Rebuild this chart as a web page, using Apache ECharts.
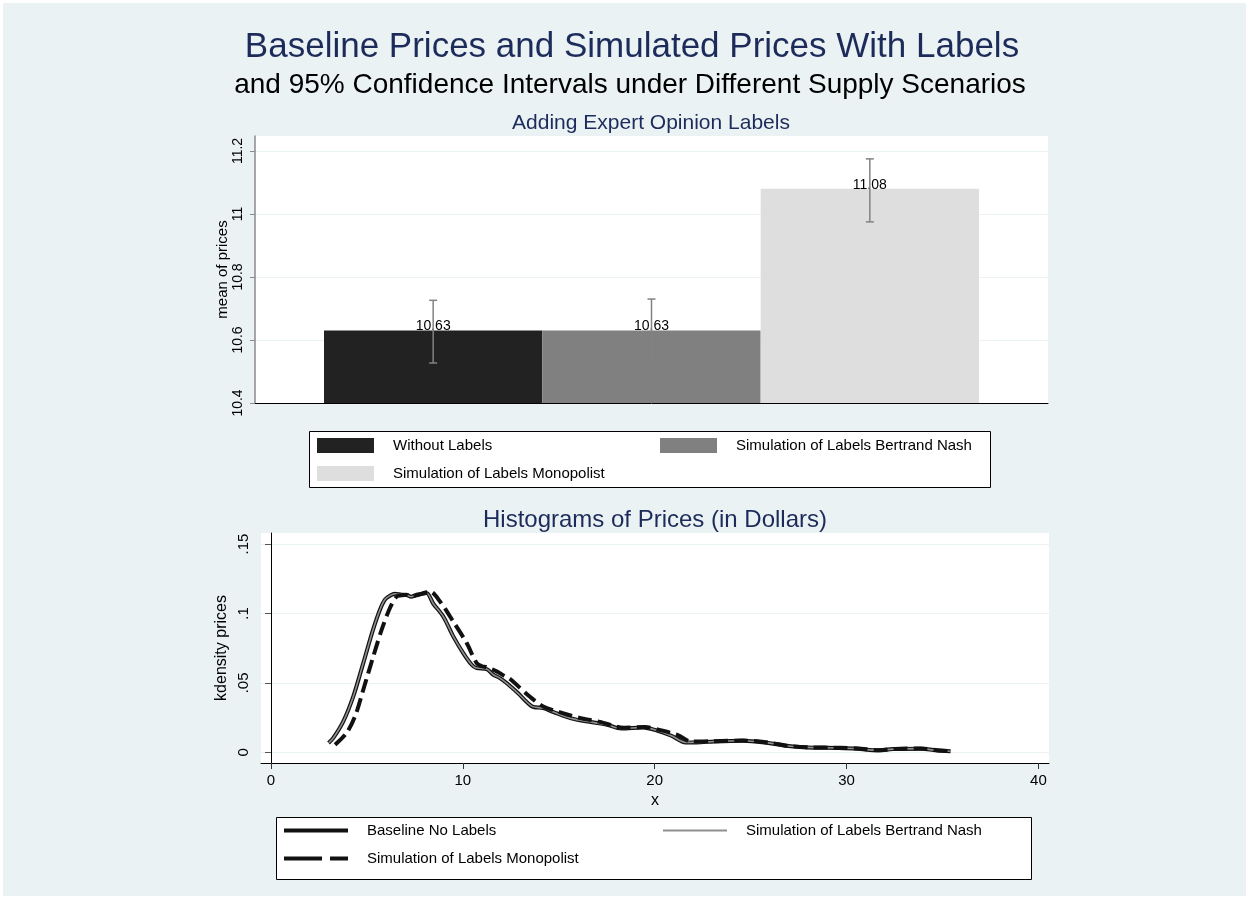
<!DOCTYPE html>
<html>
<head>
<meta charset="utf-8">
<script src="https://cdn.jsdelivr.net/npm/echarts@6/dist/echarts.min.js"></script>
<style>
  html, body { margin: 0; padding: 0; background: #fff; }
  #main { width: 1251px; height: 902px; }
</style>
</head>
<body>
<div id="main"></div>
<script>
// top panel: mean prices with 95% CI
const barNames = ['Without Labels', 'Simulation of Labels Bertrand Nash', 'Simulation of Labels Monopolist'];
const meanPrices = [10.63, 10.63, 11.08];
const ciLow = [10.527, 10.53, 10.975];
const ciHigh = [10.726, 10.73, 11.175];
const barTicks = [10.4, 10.6, 10.8, 11, 11.2];
const barColors = ['#222222', '#808080', '#dedede'];

// bottom panel: kernel densities of prices
const lineNames = ['Baseline No Labels', 'Simulation of Labels Bertrand Nash', 'Simulation of Labels Monopolist'];
const baseX = [3.0, 3.25, 3.77, 4.29, 4.81, 5.32, 5.68, 5.94, 6.2, 6.46, 6.8, 7.07, 7.3, 7.59, 7.85, 8.11, 8.46, 8.98,
  9.5, 10.02, 10.46, 10.72, 11.24, 11.59, 11.93, 12.28, 12.87, 13.61, 14.19, 14.73, 15.65, 16.5, 17.51, 18.26,
  19.38, 20.12, 20.87, 21.61, 22.17, 23.1, 24.59, 25.71, 26.82, 27.94, 29.61, 30.54, 31.66, 32.41, 33.89, 34.64, 35.42];
const baseY = [.0068, .0104, .0223, .0403, .0643, .0883, .1027, .110, .1128, .1142, .1135, .1133, .1120, .1135, .1140, .1147, .1070, .0978,
  .0835, .0715, .0631, .0607, .0600, .0559, .0535, .0499, .0427, .0331, .0319, .0290, .0245, .0222, .0199, .0172,
  .0180, .0158, .0120, .0072, .0072, .0079, .0084, .0072, .0048, .0036, .0032, .0027, .0015, .0024, .0027, .0015, .0008];
// Bertrand Nash simulation sits on top of the baseline curve
const nashX = baseX;
const nashY = baseY;
const monoX = [3.34, 3.94, 4.38, 4.81, 5.33, 5.77, 6.2, 6.55, 6.8, 7.07, 7.3, 7.59, 7.9, 8.29, 8.81, 9.5, 10.2, 10.72, 11.0,
  11.24, 11.76, 12.21, 12.45, 13.5, 14.19, 15.2, 16.2, 17.14, 18.4, 19.5, 20.3, 21.2, 21.9, 23.1, 24.59, 25.8, 26.9,
  28.0, 29.7, 30.6, 31.7, 32.5, 33.9, 34.7, 35.42];
const monoY = [.0055, .0140, .0259, .0451, .0690, .0883, .1039, .1122, .1130, .1135, .1122, .1130, .1145, .1158, .1086, .0942, .0787, .0643, .0620,
  .0614, .0583, .0547, .0530, .0400, .0331, .0283, .0245, .0220, .0178, .0182, .0160, .0125, .0078, .0081, .0085, .0073, .0048,
  .0037, .0033, .0028, .0016, .0025, .0028, .0016, .0008];
const kdXTicks = [0, 10, 20, 30, 40];
const kdYTicks = [0, 0.05, 0.1, 0.15];

const FONT = 'Liberation Sans, Arial, Helvetica, sans-serif';
const NAVY = '#1d2b5b';
const BG = '#eaf2f3';
const CLEAR = 'rgba(0,0,0,0)';

const pairs = (xs, ys) => xs.map((x, i) => [x, ys[i]]);
// bar and line series share some names, so the lines get a prefix that the legend hides
const kdName = n => 'kd|' + n;
const showName = n => n.split('|').pop();

function titleAt(text, x, y, size, color) {
  return {
    text: text, left: x, top: y, padding: 0,
    textAlign: 'center', textVerticalAlign: 'middle',
    textStyle: { fontFamily: FONT, fontSize: size, fontWeight: 'normal', color: color }
  };
}

function legendAt(name, x, y, w, h, icon, lineStyle) {
  const lg = {
    data: [name], left: x, top: y, padding: 0,
    itemWidth: w, itemHeight: h, selectedMode: false,
    formatter: showName,
    textStyle: { fontFamily: FONT, fontSize: 15, color: '#000', padding: [0, 0, 0, 14], lineHeight: h }
  };
  if (icon) lg.icon = icon;
  else lg.itemStyle = { color: CLEAR, borderColor: CLEAR, borderWidth: 0 };
  if (lineStyle) lg.lineStyle = lineStyle;
  return lg;
}

const chart = echarts.init(document.getElementById('main'));

const option = {
  backgroundColor: '#fff',
  animation: false,
  graphic: [
    { type: 'rect', z: -10, shape: { x: 3, y: 3, width: 1243, height: 893 }, style: { fill: BG } },
    { type: 'rect', z: -5, shape: { x: 309.5, y: 431.5, width: 681, height: 56 }, style: { fill: '#fff', stroke: '#000', lineWidth: 1 } },
    { type: 'rect', z: -5, shape: { x: 276.5, y: 817.5, width: 755, height: 62 }, style: { fill: '#fff', stroke: '#000', lineWidth: 1 } }
  ],
  title: [
    titleAt('Baseline Prices and Simulated Prices With Labels', 632, 47, 35, NAVY),
    titleAt('and 95% Confidence Intervals under Different Supply Scenarios', 630, 85, 28, '#000'),
    titleAt('Adding Expert Opinion Labels', 651, 123, 21, NAVY),
    titleAt('Histograms of Prices (in Dollars)', 655, 520, 24, NAVY)
  ],
  legend: [
    legendAt(barNames[0], 317, 438, 57, 15, 'rect'),
    legendAt(barNames[1], 660, 438, 57, 15, 'rect'),
    legendAt(barNames[2], 317, 466, 57, 15, 'rect'),
    legendAt(kdName(lineNames[0]), 282, 823, 64, 14, null, { color: '#111', width: 4, type: 'solid' }),
    legendAt(kdName(lineNames[1]), 662, 823, 64, 14, null, { color: '#8f8f8f', width: 2, type: 'solid' }),
    legendAt(kdName(lineNames[2]), 282, 851, 64, 14, null, { color: '#111', width: 4, type: [38, 8] })
  ],
  grid: [
    // frame of the bar panel
    { left: 255, right: 1251 - 1048, top: 136, bottom: 902 - 403, show: true, backgroundColor: '#fff', borderWidth: 0 },
    // bars
    { left: 324, right: 1251 - 979, top: 136, bottom: 902 - 403, show: false },
    // density panel
    { left: 261, right: 1251 - 1049, top: 533, bottom: 902 - 763, show: true, backgroundColor: '#fff', borderWidth: 0 }
  ],
  xAxis: [
    {
      gridIndex: 0, type: 'value', min: 0, max: 1,
      axisLine: { show: true, lineStyle: { color: '#000', width: 1 } },
      axisTick: { show: false }, axisLabel: { show: false }, splitLine: { show: false }
    },
    {
      gridIndex: 1, type: 'category', data: barNames, show: false
    },
    {
      gridIndex: 2, type: 'value', min: -0.52, max: 40.55,
      name: 'x', nameLocation: 'middle', nameGap: 30, nameMoveOverlap: false,
      nameTextStyle: { fontFamily: FONT, fontSize: 16, color: '#000' },
      axisLine: { show: true, onZero: false, lineStyle: { color: '#000', width: 1 } },
      axisTick: { show: true, length: 6, customValues: kdXTicks, lineStyle: { color: '#333' } },
      axisLabel: { customValues: kdXTicks, margin: 10, fontFamily: FONT, fontSize: 15, color: '#000' },
      splitLine: { show: false }
    }
  ],
  yAxis: [
    {
      gridIndex: 0, type: 'value', min: 10.4, max: 11.2476,
      name: 'mean of prices', nameLocation: 'middle', nameGap: 25, nameMoveOverlap: false,
      nameTextStyle: { fontFamily: FONT, fontSize: 15, color: '#000' },
      axisLine: { show: true, lineStyle: { color: '#8a8a8a', width: 1.5 } },
      axisTick: { show: true, length: 5, customValues: barTicks, lineStyle: { color: '#8a8a8a' } },
      axisLabel: {
        customValues: barTicks, rotate: 90, margin: 10,
        fontFamily: FONT, fontSize: 14, color: '#000'
      },
      splitLine: { show: true, lineStyle: { color: BG, width: 1 } }
    },
    {
      gridIndex: 1, type: 'value', min: 10.4, max: 11.2476, show: false, splitLine: { show: false }
    },
    {
      gridIndex: 2, type: 'value', min: -0.00762, max: 0.1579,
      name: 'kdensity prices', nameLocation: 'middle', nameGap: 31, nameMoveOverlap: false,
      nameTextStyle: { fontFamily: FONT, fontSize: 16, color: '#000' },
      axisLine: { show: true, lineStyle: { color: '#000', width: 1 } },
      axisTick: { show: true, length: 6, customValues: kdYTicks, lineStyle: { color: '#555' } },
      axisLabel: {
        customValues: kdYTicks, rotate: 90, margin: 10,
        fontFamily: FONT, fontSize: 15, color: '#000',
        formatter: v => (v === 0 ? '0' : String(+v.toFixed(2)).replace(/^0/, ''))
      },
      splitLine: { show: true, lineStyle: { color: BG, width: 1 } }
    }
  ],
  series: [
    ...barNames.map((name, i) => ({
      name: name, type: 'bar', xAxisIndex: 1, yAxisIndex: 1,
      barGap: '-100%', barCategoryGap: 0,
      itemStyle: { color: barColors[i] },
      label: {
        show: true, position: 'top', distance: -3,
        fontFamily: FONT, fontSize: 14, color: '#000',
        formatter: p => p.value.toFixed(2)
      },
      data: barNames.map((c, j) => (j === i ? meanPrices[i] : '-'))
    })),
    {
      name: 'ci', type: 'custom', xAxisIndex: 1, yAxisIndex: 1, z: 5,
      renderItem: function (params, api) {
        const idx = api.value(0);
        const lo = api.coord([idx, api.value(1)]);
        const hi = api.coord([idx, api.value(2)]);
        const cap = 4;
        const style = { stroke: '#828282', lineWidth: 1.5 };
        return {
          type: 'group',
          children: [
            { type: 'line', shape: { x1: hi[0], y1: hi[1], x2: lo[0], y2: lo[1] }, style: style },
            { type: 'line', shape: { x1: hi[0] - cap, y1: hi[1], x2: hi[0] + cap, y2: hi[1] }, style: style },
            { type: 'line', shape: { x1: lo[0] - cap, y1: lo[1], x2: lo[0] + cap, y2: lo[1] }, style: style }
          ]
        };
      },
      data: barNames.map((c, i) => [i, ciLow[i], ciHigh[i]])
    },
    {
      name: kdName(lineNames[0]), type: 'line', xAxisIndex: 2, yAxisIndex: 2,
      symbol: 'none', smooth: 0.3, z: 2,
      lineStyle: { color: '#111', width: 4 },
      itemStyle: { color: '#111' },
      data: pairs(baseX, baseY)
    },
    {
      name: kdName(lineNames[1]), type: 'line', xAxisIndex: 2, yAxisIndex: 2,
      symbol: 'none', smooth: 0.3, z: 3,
      lineStyle: { color: '#8f8f8f', width: 1.6 },
      itemStyle: { color: '#8f8f8f' },
      data: pairs(nashX, nashY)
    },
    {
      name: kdName(lineNames[2]), type: 'line', xAxisIndex: 2, yAxisIndex: 2,
      symbol: 'none', smooth: 0.3, z: 4,
      lineStyle: { color: '#111', width: 4, type: [14, 6] },
      itemStyle: { color: '#111' },
      data: pairs(monoX, monoY)
    }
  ]
};

chart.setOption(option);
</script>
</body>
</html>
